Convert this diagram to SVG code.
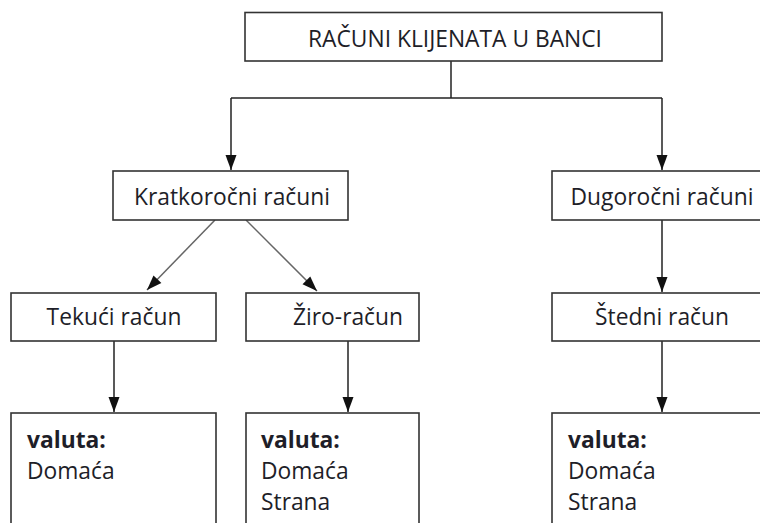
<svg xmlns="http://www.w3.org/2000/svg" width="760" height="523" viewBox="0 0 760 523">
<defs>
<marker id="arr" markerUnits="userSpaceOnUse" markerWidth="20" markerHeight="16" viewBox="-16 -8 18 16" refX="0" refY="0" orient="auto">
<path d="M-15,-5.5 L0,0 L-15,5.5 Z" fill="#111"/>
</marker>
<style>
.box{fill:#fff;stroke:#333;stroke-width:1.6}
.t{font-family:"Open Sans","Noto Sans","DejaVu Sans",sans-serif;font-size:22.8px;fill:#1e1e28}
.c{text-anchor:middle}
.b{font-weight:bold}
.ln{fill:none;stroke:#222;stroke-width:1.5}
.dg{fill:none;stroke:#666;stroke-width:1.5}
</style>
</defs>
<rect width="760" height="523" fill="#fff"/>
<g id="connectors">
<polyline class="ln" points="451,61 451,98"/>
<polyline class="ln" points="231,98 662,98"/>
<polyline class="ln" points="231,98 231,170" marker-end="url(#arr)"/>
<polyline class="ln" points="662,98 662,170" marker-end="url(#arr)"/>
<line class="dg" x1="215" y1="220" x2="147" y2="290" marker-end="url(#arr)"/>
<line class="dg" x1="246" y1="220" x2="317" y2="291" marker-end="url(#arr)"/>
<line class="ln" x1="662" y1="220" x2="662" y2="292" marker-end="url(#arr)"/>
<line class="ln" x1="114" y1="341" x2="114" y2="412" marker-end="url(#arr)"/>
<line class="ln" x1="348" y1="341" x2="348" y2="412" marker-end="url(#arr)"/>
<line class="ln" x1="662" y1="341" x2="662" y2="412" marker-end="url(#arr)"/>
</g>
<g id="root">
<rect class="box" x="245" y="12.5" width="417" height="48.5"/>
<text class="t c" x="455" y="47">RAČUNI KLIJENATA U BANCI</text>
</g>
<g id="kratkorocni">
<rect class="box" x="113" y="171" width="235" height="49"/>
<text class="t c" x="232" y="205">Kratkoročni računi</text>
</g>
<g id="dugorocni">
<rect class="box" x="552" y="171" width="220" height="49"/>
<text class="t c" x="662" y="205">Dugoročni računi</text>
</g>
<g id="tekuci">
<rect class="box" x="11" y="293" width="205" height="48"/>
<text class="t c" x="114" y="325">Tekući račun</text>
</g>
<g id="ziro">
<rect class="box" x="246" y="293" width="173" height="48"/>
<text class="t c" x="348" y="325">Žiro-račun</text>
</g>
<g id="stedni">
<rect class="box" x="552" y="293" width="220" height="48"/>
<text class="t c" x="662" y="325">Štedni račun</text>
</g>
<g id="valuta-tekuci">
<rect class="box" x="11" y="413" width="205" height="120"/>
<text class="t b" x="27" y="448">valuta:</text>
<text class="t" x="27" y="479">Domaća</text>
</g>
<g id="valuta-ziro">
<rect class="box" x="246" y="413" width="173" height="120"/>
<text class="t b" x="261" y="448">valuta:</text>
<text class="t" x="261" y="479">Domaća</text>
<text class="t" x="261" y="510">Strana</text>
</g>
<g id="valuta-stedni">
<rect class="box" x="552" y="413" width="220" height="120"/>
<text class="t b" x="568" y="448">valuta:</text>
<text class="t" x="568" y="479">Domaća</text>
<text class="t" x="568" y="510">Strana</text>
</g>
</svg>
